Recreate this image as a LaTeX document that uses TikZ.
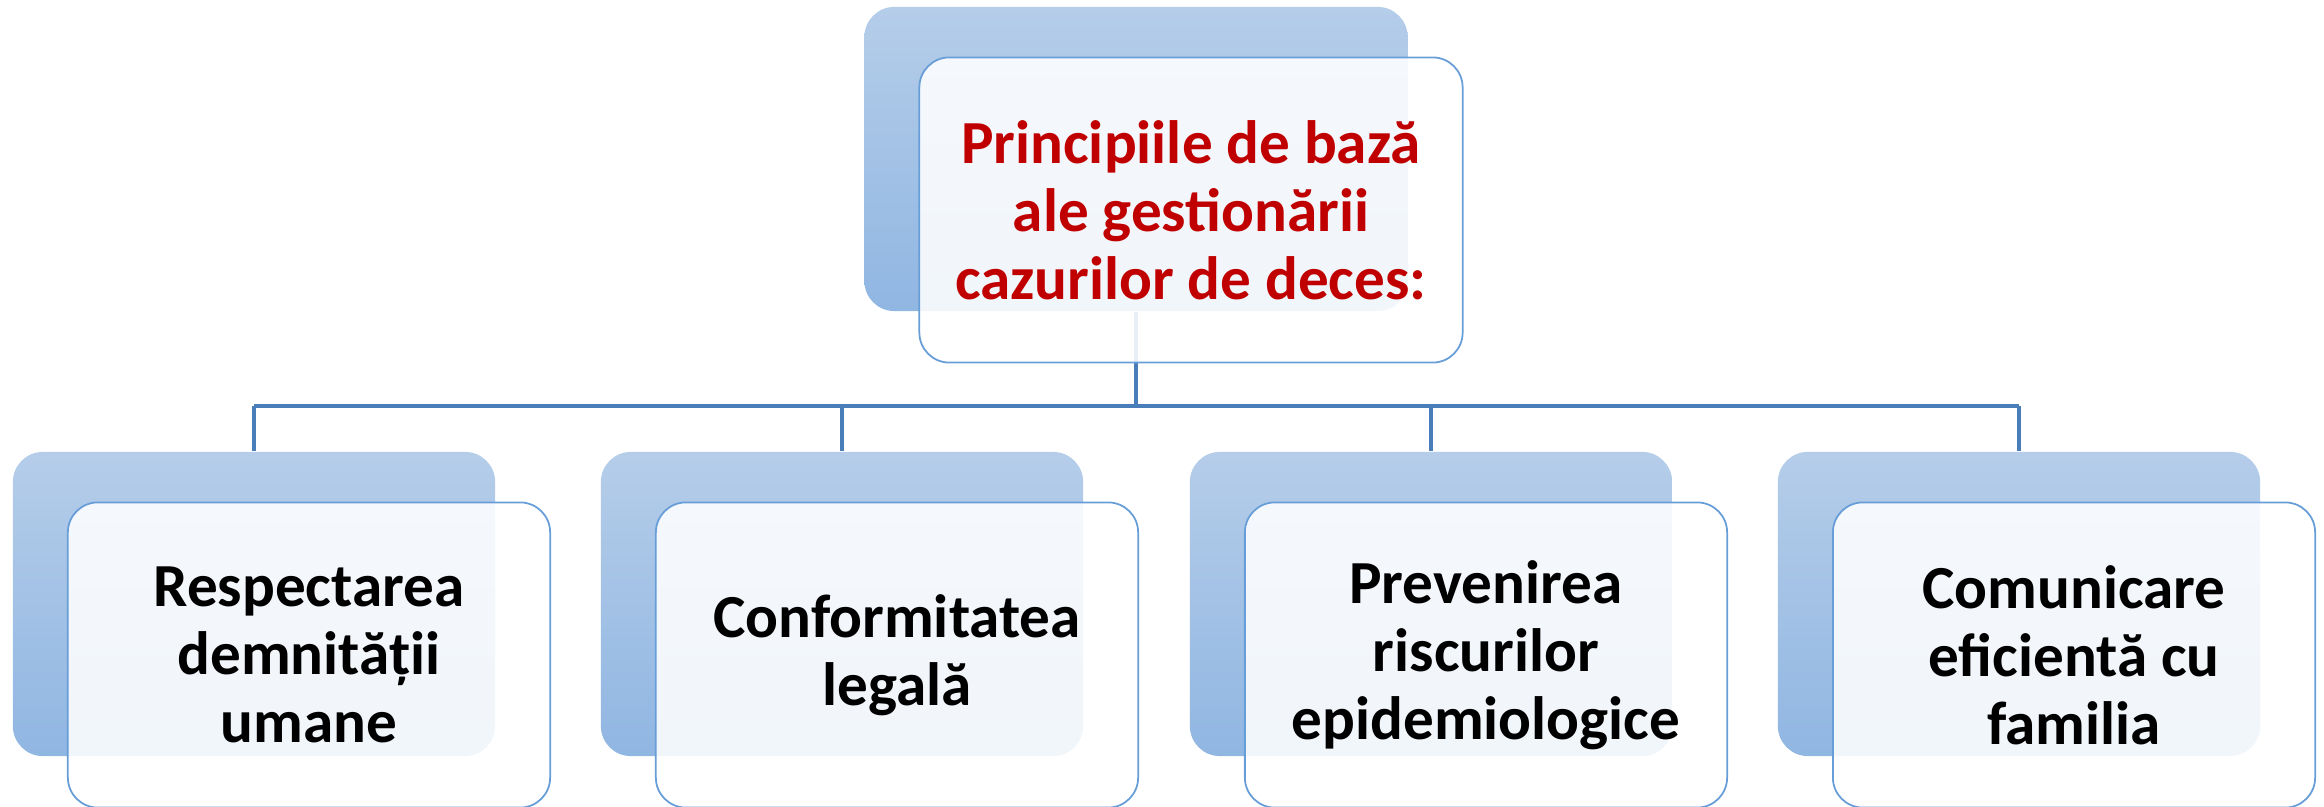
\documentclass[tikz,border=0pt]{standalone}
\usepackage{fontspec}
\setmainfont{Carlito}
\usepackage{xcolor}
\usepackage{tikz}
\definecolor{backtop}{RGB}{181,205,233}
\definecolor{backbot}{RGB}{144,182,226}
\definecolor{frameblue}{RGB}{104,158,215}
\definecolor{busblue}{RGB}{74,126,187}
\definecolor{titlered}{RGB}{192,0,0}
\tikzset{
  backbox/.style={rounded corners=0.3cm, top color=backtop, bottom color=backbot,
    draw=none, minimum height=3.04cm, inner sep=0pt},
  frontbox/.style={rounded corners=0.3cm, draw=frameblue, line width=0.5pt,
    fill=white, fill opacity=0.88, text opacity=1, minimum height=3.05cm,
    align=center, inner sep=0pt, font=\bfseries\fontsize{17.4}{19.3}\selectfont},
  bus/.style={draw=busblue, line width=0.9pt}
}
\begin{document}
\begin{tikzpicture}[x=0.01cm,y=-0.01cm]
  \useasboundingbox (0,0) rectangle (2324,807);
  % back boxes
  \node[backbox, minimum width=5.43cm] (top) at (1136,159) {};
  \node[backbox, minimum width=4.82cm] (b1) at (254,604) {};
  \node[backbox, minimum width=4.82cm] (b2) at (842,604) {};
  \node[backbox, minimum width=4.82cm] (b3) at (1431,604) {};
  \node[backbox, minimum width=4.82cm] (b4) at (2019,604) {};
  % connectors
  \coordinate (hub) at (1136,406);
  \coordinate (h1) at (254,406);
  \coordinate (h4) at (2019,406);
  \draw[bus] (top.south) -- (hub);
  \draw[bus] (h1) -- (h4);
  \draw[bus] (h1) -- (b1.north);
  \draw[bus] (b2.north |- hub) -- (b2.north);
  \draw[bus] (b3.north |- hub) -- (b3.north);
  \draw[bus] (h4) -- (b4.north);
  % front boxes
  \node[frontbox, minimum width=5.43cm, text=titlered] (ftop) at ([shift={(55,51)}]top.center)
    {Principiile de bază\\ale gestionării\\cazurilor de deces:};
  \node[frontbox, minimum width=4.82cm] (f1) at ([shift={(55,51)}]b1.center)
    {Respectarea\\demnității\\umane};
  \node[frontbox, minimum width=4.82cm] (f2) at ([shift={(55,51)}]b2.center)
    {Conformitatea\\legală};
  \node[frontbox, minimum width=4.82cm] (f3) at ([shift={(55,51)}]b3.center)
    {Prevenirea\\riscurilor\\epidemiologice};
  \node[frontbox, minimum width=4.82cm] (f4) at ([shift={(55,51)}]b4.center)
    {Comunicare\\eficientă cu\\familia};
\end{tikzpicture}
\end{document}
